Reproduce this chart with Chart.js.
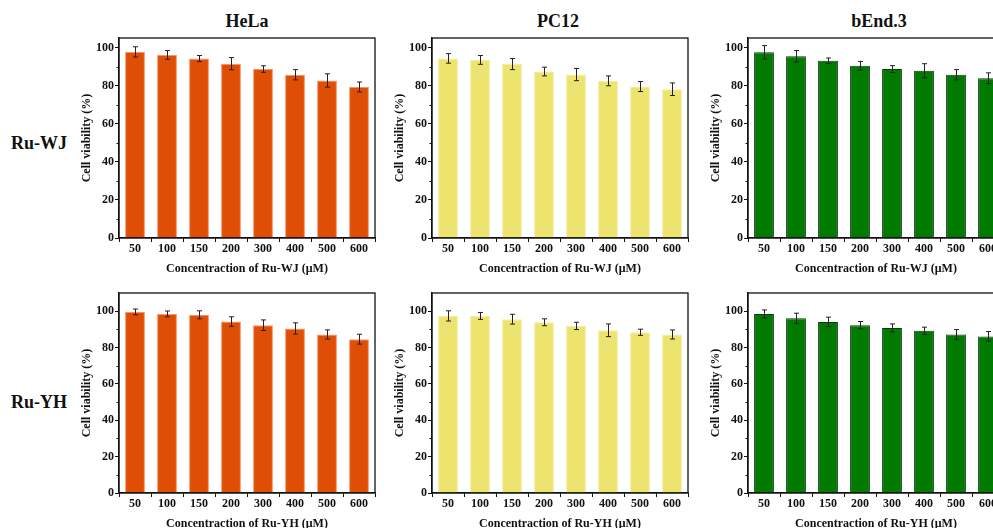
<!DOCTYPE html>
<html>
<head>
<meta charset="utf-8">
<script src="https://cdn.jsdelivr.net/npm/chart.js@4.4.0/dist/chart.umd.min.js"></script>
<style>
  html, body { margin: 0; padding: 0; background: #fff; }
  body { width: 993px; height: 528px; overflow: hidden; position: relative; font-family: "Liberation Serif", "DejaVu Serif", serif; }
  .panel { position: absolute; width: 320px; height: 252px; }
  .colTitle, .rowTitle { position: absolute; font-weight: bold; font-size: 18px; color: #111; white-space: nowrap; transform: translate(-50%, -50%); }
</style>
</head>
<body>
  <div class="colTitle" style="left:247px; top:21px;">HeLa</div>
  <div class="colTitle" style="left:558px; top:21px;">PC12</div>
  <div class="colTitle" style="left:879px; top:21px;">bEnd.3</div>
  <div class="rowTitle" style="left:39px; top:143px;">Ru-WJ</div>
  <div class="rowTitle" style="left:39px; top:402px;">Ru-YH</div>

  <div class="panel" style="left:76px; top:28px;"><canvas id="c1" width="320" height="252"></canvas></div>
  <div class="panel" style="left:389px; top:28px;"><canvas id="c2" width="320" height="252"></canvas></div>
  <div class="panel" style="left:705px; top:28px;"><canvas id="c3" width="320" height="252"></canvas></div>
  <div class="panel" style="left:76px; top:283px;"><canvas id="c4" width="320" height="252"></canvas></div>
  <div class="panel" style="left:389px; top:283px;"><canvas id="c5" width="320" height="252"></canvas></div>
  <div class="panel" style="left:705px; top:283px;"><canvas id="c6" width="320" height="252"></canvas></div>

<script>
// concentrations (µM)
const concentrations = ['50', '100', '150', '200', '300', '400', '500', '600'];

// Ru-WJ, cell viability (%) and SD
const helaWJ     = [97.7, 96.1, 94.2, 91.5, 88.7, 85.7, 82.7, 79.3];
const helaWJErr  = [2.7, 2.3, 1.6, 3.2, 1.7, 2.7, 3.5, 2.6];
const pc12WJ     = [94.3, 93.5, 91.3, 87.4, 85.8, 82.5, 79.5, 78.1];
const pc12WJErr  = [2.5, 2.3, 2.9, 2.3, 3.2, 2.6, 2.6, 3.3];
const bendWJ     = [97.5, 95.4, 93.1, 90.4, 88.7, 87.8, 85.7, 83.9];
const bendWJErr  = [3.5, 3.0, 1.4, 2.3, 1.8, 3.7, 2.7, 2.8];

// Ru-YH
const helaYH     = [99.6, 98.5, 98.0, 94.3, 92.3, 90.5, 87.2, 84.6];
const helaYHErr  = [1.6, 1.6, 2.2, 2.6, 2.9, 3.1, 2.5, 2.7];
const pc12YH     = [97.4, 97.4, 95.6, 93.9, 91.9, 89.5, 88.4, 87.2];
const pc12YHErr  = [2.8, 1.9, 2.7, 1.9, 2.0, 3.5, 1.7, 2.5];
const bendYH     = [98.5, 96.1, 94.1, 92.3, 90.8, 89.2, 87.2, 86.1];
const bendYHErr  = [2.2, 2.8, 2.6, 2.0, 2.2, 2.0, 2.7, 2.7];

const yTickLabels = [0, 20, 40, 60, 80, 100];
const minorTicks  = [10, 30, 50, 70, 90];

const FONT = '"Liberation Serif", "Times New Roman", serif';

// box around plot + minor ticks + error bars
const panelDecor = {
  id: 'panelDecor',
  afterDatasetsDraw(chart) {
    const c = chart.ctx, a = chart.chartArea;
    const ys = chart.scales.y;
    const ds = chart.data.datasets[0];
    const meta = chart.getDatasetMeta(0);
    c.save();
    // error bars
    c.strokeStyle = '#222';
    c.lineWidth = 1;
    meta.data.forEach((bar, i) => {
      const v = ds.data[i], e = ds.errors[i];
      const x = Math.round(bar.x) + 0.5;
      const yt = ys.getPixelForValue(v + e), yb = ys.getPixelForValue(v - e);
      c.beginPath();
      c.moveTo(x, yt); c.lineTo(x, yb);
      c.moveTo(x - 2.5, yt); c.lineTo(x + 2.5, yt);
      c.moveTo(x - 2.5, yb); c.lineTo(x + 2.5, yb);
      c.stroke();
    });
    // frame
    c.strokeStyle = '#111';
    c.lineWidth = 1.3;
    c.strokeRect(a.left, a.top, a.right - a.left, a.bottom - a.top);
    // minor ticks on y
    c.lineWidth = 1;
    minorTicks.forEach(t => {
      const y = Math.round(ys.getPixelForValue(t)) + 0.5;
      c.beginPath();
      c.moveTo(a.left - 2.5, y); c.lineTo(a.left, y);
      c.stroke();
    });
    c.restore();
  }
};

function makePanel(id, values, errors, fill, edge, xTitle, yMax) {
  return new Chart(document.getElementById(id), {
    type: 'bar',
    data: {
      labels: concentrations,
      datasets: [{
        data: values,
        errors: errors,
        backgroundColor: fill,
        borderColor: edge,
        borderWidth: 1,
        categoryPercentage: 1,
        barPercentage: 0.62
      }]
    },
    options: {
      responsive: false,
      animation: false,
      layout: { padding: { top: 10, right: 21, left: 0, bottom: 0 } },
      plugins: { legend: { display: false }, tooltip: { enabled: false } },
      scales: {
        x: {
          afterFit: s => { s.height = 42; },
          grid: { display: true, drawOnChartArea: false, drawTicks: true, tickLength: 4, offset: true, color: '#111' },
          border: { display: true, color: '#111', width: 1.3 },
          ticks: { color: '#111', padding: 0, maxRotation: 0, autoSkip: false, font: { family: FONT, size: 12, weight: 'bold' } },
          title: { display: true, text: xTitle, color: '#111', padding: 4, font: { family: FONT, size: 12, weight: 'bold' } }
        },
        y: {
          min: 0,
          max: yMax,
          afterFit: s => { s.width = 43; },
          afterBuildTicks: s => { s.ticks = yTickLabels.map(v => ({ value: v })); },
          grid: { display: true, drawOnChartArea: false, drawTicks: true, tickLength: 4, color: '#111' },
          border: { display: true, color: '#111', width: 1.3 },
          ticks: { color: '#111', padding: 1, font: { family: FONT, size: 12, weight: 'bold' } },
          title: { display: true, text: 'Cell viability (%)', color: '#111', padding: 4, font: { family: FONT, size: 12, weight: 'bold' } }
        }
      }
    },
    plugins: [panelDecor]
  });
}

const orange = '#E04E05', orangeEdge = '#F0956A';
const yellow = '#ECE46E', yellowEdge = '#F4EEA4';
const green  = '#007A00', greenEdge  = '#0E3A0E';

makePanel('c1', helaWJ, helaWJErr, orange, orangeEdge, 'Concentraction of Ru-WJ (μM)', 105);
makePanel('c2', pc12WJ, pc12WJErr, yellow, yellowEdge, 'Concentraction of Ru-WJ (μM)', 105);
makePanel('c3', bendWJ, bendWJErr, green, greenEdge, 'Concentraction of Ru-WJ (μM)', 105);
makePanel('c4', helaYH, helaYHErr, orange, orangeEdge, 'Concentraction of Ru-YH (μM)', 110);
makePanel('c5', pc12YH, pc12YHErr, yellow, yellowEdge, 'Concentraction of Ru-YH (μM)', 110);
makePanel('c6', bendYH, bendYHErr, green, greenEdge, 'Concentraction of Ru-YH (μM)', 110);
</script>
</body>
</html>
